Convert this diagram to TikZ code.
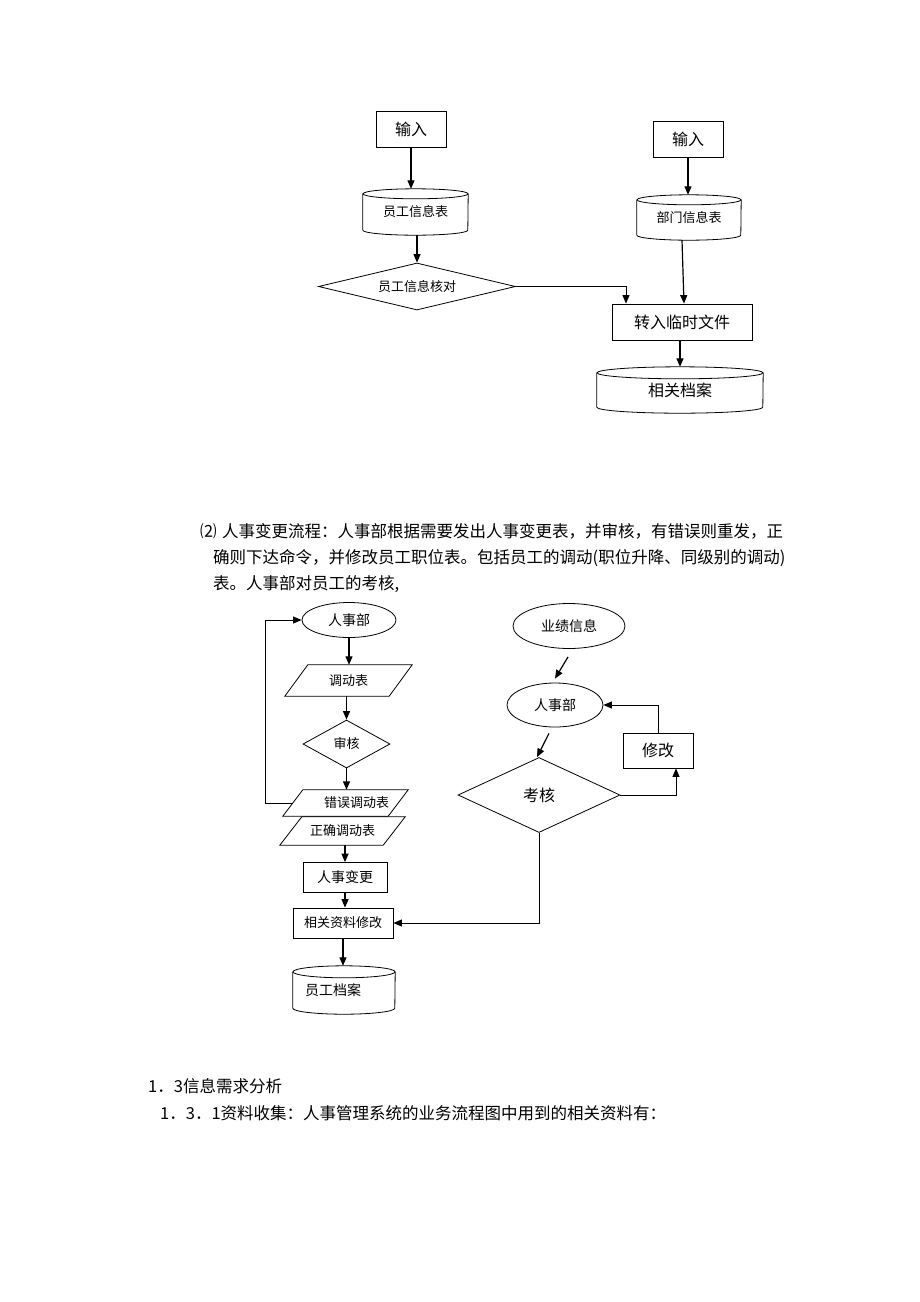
\documentclass[tikz,border=0pt]{standalone}
\usepackage{fontspec}
\setmainfont{Liberation Serif}
\newfontfamily\cjk{Noto Sans CJK SC}
\usetikzlibrary{arrows.meta,shapes.geometric}
\newcommand\cylshape[3]{% node, ry, rx
  \draw[shapeline] ([yshift=-#2]#1.north west) -- ([yshift=#2]#1.south west)
    arc[start angle=180,end angle=360,x radius=#3,y radius=#2]
    -- ([yshift=-#2]#1.north east);
  \draw[shapeline] ([yshift=-#2]#1.north) ellipse[x radius=#3,y radius=#2];
}
\newcommand\parashape[2]{% node, slant
  \draw[shapeline] (#1.south west) -- ([xshift=-#2]#1.south east) -- (#1.north east) -- ([xshift=#2]#1.north west) -- cycle;
}
\tikzset{
  shapeline/.style={line width=0.8pt},
  basenode/.style={inner sep=0pt, font=\cjk\fontsize{14pt}{16pt}\selectfont},
  fsixteen/.style={font=\cjk\fontsize{16pt}{18pt}\selectfont},
  fthirteen/.style={font=\cjk\fontsize{13pt}{15pt}\selectfont},
  boxnode/.style={basenode, draw, shapeline, rectangle},
  cylnode/.style={basenode, rectangle},
  paranode/.style={basenode, rectangle},
  dianode/.style={basenode, draw, shapeline, diamond},
  ellnode/.style={basenode, draw, shapeline, ellipse},
  arr/.style={-{Triangle[length=8.5pt,width=7pt]}, line width=1.2pt},
  plainline/.style={line width=0.9pt},
  txt/.style={inner sep=0pt, anchor=west, font=\cjk\fontsize{16.5pt}{19pt}\selectfont},
}
\begin{document}
\begin{tikzpicture}[x=1pt,y=-1pt]
\useasboundingbox (0,0) rectangle (920,1302);

% ---------- top diagram ----------
\node[boxnode, fsixteen, minimum width=70pt, minimum height=36pt] (in1) at (411,129) {输入};
\node[cylnode, fthirteen, minimum width=105pt, minimum height=46pt] (c1) at (415.5,212) {\raisebox{-5pt}{员工信息表}};
\cylshape{c1}{5pt}{52.5pt}
\node[dianode, fthirteen, aspect=4, minimum width=197pt, minimum height=47pt] (d1) at (417,286.5) {员工信息核对};
\node[boxnode, fsixteen, minimum width=70pt, minimum height=36pt] (in2) at (688,139) {输入};
\node[cylnode, fthirteen, minimum width=104pt, minimum height=45pt] (c2) at (689,217.5) {\raisebox{-5pt}{部门信息表}};
\cylshape{c2}{5pt}{52pt}
\node[boxnode, fsixteen, minimum width=140pt, minimum height=36pt] (t1) at (682,322) {转入临时文件};
\node[cylnode, fsixteen, minimum width=166pt, minimum height=46pt] (c3) at (680,390) {\raisebox{-5pt}{相关档案}};
\cylshape{c3}{6pt}{83pt}

\draw[arr] (in1.south) -- (in1.south |- c1.north);
\draw[arr] (d1.north |- c1.south) -- (d1.north);
\draw[arr, line width=0.9pt] (d1.east) -| ([xshift=-56pt]t1.north);
\draw[arr] (in2.south) -- (in2.south |- c2.north);
\draw[arr] ([xshift=-7pt]c2.south) -- ([xshift=2pt]t1.north);
\draw[arr] (c3.north |- t1.south) -- (c3.north);

% ---------- paragraph ----------
\node[txt] (p0) at (200,531) {⑵};
\node[txt] (l1) at (222,531) {人事变更流程：人事部根据需要发出人事变更表，并审核，有错误则重发，正};
\node[txt] (l2) at (213,558) {确则下达命令，并修改员工职位表。包括员工的调动(职位升降、同级别的调动)};
\node[txt] (l3) at (213,584) {表。人事部对员工的考核,};

% ---------- bottom-left diagram ----------
\node[ellnode, minimum width=94pt, minimum height=35pt] (e1) at (349,620) {人事部};
\node[paranode, fthirteen, minimum width=127pt, minimum height=31pt] (p1) at (348.5,680.5) {调动表};
\parashape{p1}{23pt}
\node[dianode, fthirteen, aspect=2, minimum width=87pt, minimum height=48pt] (d2) at (346.5,744) {审核};
\node[paranode, fthirteen, minimum width=125pt, minimum height=26pt] (p2) at (345.5,803) {\hspace{22pt}错误调动表};
\parashape{p2}{20pt}
\node[paranode, fthirteen, minimum width=125pt, minimum height=28pt] (p3) at (342.5,831) {正确调动表};
\parashape{p3}{22pt}
\node[boxnode, minimum width=84pt, minimum height=30pt] (b1) at (345,877.5) {人事变更};
\node[boxnode, fthirteen, minimum width=100pt, minimum height=30pt] (b2) at (343,923) {相关资料修改};
\node[cylnode, minimum width=102pt, minimum height=48pt] (c4) at (344,990) {\raisebox{-5pt}{\hspace{-22pt}员工档案}};
\cylshape{c4}{6pt}{51pt}

\draw[arr] (e1.south) -- (e1.south |- p1.north);
\draw[arr] (d2.north |- p1.south) -- (d2.north);
\draw[arr] (d2.south) -- (d2.south |- p2.north);
\coordinate (fb) at (265,803);
\draw[arr, line width=0.9pt] ([xshift=10pt]p2.west) -- (fb) |- (e1.west);
\draw[arr] (b1.north |- p3.south) -- (b1.north);
\draw[arr] (b1.south) -- (b1.south |- b2.north);
\draw[arr] (b2.south) -- (b2.south |- c4.north);

% ---------- bottom-right diagram ----------
\node[ellnode, minimum width=112pt, minimum height=45pt] (e2) at (569,626) {业绩信息};
\node[ellnode, minimum width=96pt, minimum height=44pt] (e3) at (555,705) {人事部};
\node[dianode, fsixteen, aspect=2, minimum width=162pt, minimum height=75pt] (d3) at (539,795) {考核};
\node[boxnode, fsixteen, minimum width=70pt, minimum height=35pt] (m1) at (658,750.5) {修改};

\draw[arr] ([xshift=-1pt,yshift=-8pt]e2.south) -- ([yshift=4pt]e3.north);
\draw[arr] ([xshift=-6pt,yshift=-6pt]e3.south) -- ([xshift=-2pt]d3.north);
\draw[arr, line width=0.9pt] (d3.east) -| ([xshift=18pt]m1.south);
\draw[arr, line width=0.9pt] (m1.north) |- (e3.east);
\draw[arr, line width=0.9pt] (d3.south) |- (b2.east);

% ---------- bottom text ----------
\node[txt] (h1) at (148,1086) {1．3信息需求分析};
\node[txt] (h2) at (160,1113) {1．3．1资料收集：人事管理系统的业务流程图中用到的相关资料有：};
\end{tikzpicture}
\end{document}
